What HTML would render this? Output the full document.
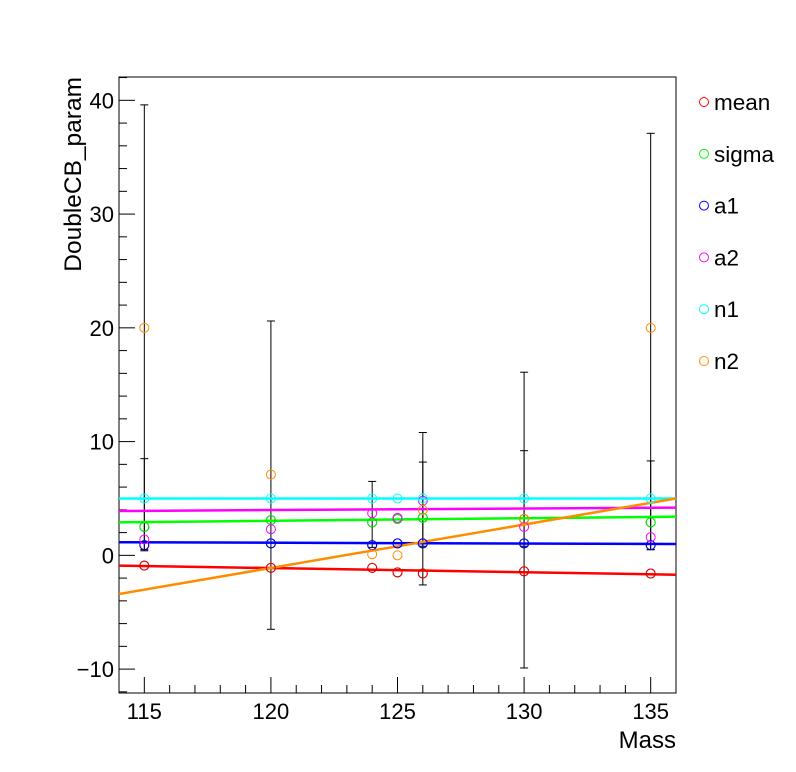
<!DOCTYPE html>
<html><head><meta charset="utf-8"><style>
body{margin:0;background:#fff;}
svg{display:block;font-family:"Liberation Sans",sans-serif;}
</style></head><body>
<svg id="c" width="796" height="772">
<rect width="796" height="772" fill="#fff"/>
<g id="plot"></g>
</svg>
<script>
const masses=[115,120,124,125,126,130,135];
const meanVals=[-0.9,-1.1,-1.1,-1.5,-1.6,-1.4,-1.6];
const sigmaVals=[2.5,3.1,2.9,3.2,3.3,3.2,2.9];
const a1Vals=[0.9,1.05,0.9,1.05,1.05,1.05,0.9];
const a2Vals=[1.4,2.3,3.7,3.3,4.8,2.5,1.6];
const n1Vals=[5,5,5,5,5,5,5];
const n2Vals=[20,7.1,0.1,0.0,4.0,3.2,20];
const fitMean=[-0.9,-1.7];
const fitSigma=[2.9,3.4];
const fitA1=[1.15,1.0];
const fitA2=[3.9,4.2];
const fitN1=[5.0,5.0];
const fitN2=[-3.4,5.0];
const errMass=[115,115,120,124,126,126,130,130,135,135];
const errLo=[0.4,0.5,-6.5,0.7,-2.6,0.8,-9.9,0.8,0.5,0.5];
const errHi=[39.6,8.5,20.6,6.5,10.8,8.2,16.1,9.2,37.1,8.3];
const xTicks=[115,120,125,130,135];
const yTicks=[-10,0,10,20,30,40];
const seriesNames=["mean","sigma","a1","a2","n1","n2"];

const X0=119,X1=676,Y0=77,Y1=693,xmin=114,xmax=136,ymin=-12.1,ymax=42.05;
const sx=v=>X0+(v-xmin)/(xmax-xmin)*(X1-X0);
const sy=v=>Y1-(v-ymin)/(ymax-ymin)*(Y1-Y0);
const svg=document.getElementById('c');
const NS='http://www.w3.org/2000/svg';
function mk(t,a,p){const e=document.createElementNS(NS,t);for(const k in a)e.setAttribute(k,a[k]);(p||svg).appendChild(e);return e;}

let f=mk('rect',{x:X0,y:Y0,width:X1-X0,height:Y1-Y0,fill:'none',stroke:'#000','stroke-width':1});


for(let v=114;v<=136;v++){const maj=v%5===0;mk('line',{x1:sx(v),x2:sx(v),y1:Y1,y2:Y1-(maj?16:8),stroke:'#000'});}
xTicks.forEach(v=>{const t=mk('text',{x:sx(v),y:Y1+26,'font-size':22,'text-anchor':'middle'});t.textContent=v;

});
for(let v=-12;v<=42;v+=2){const maj=v%10===0;mk('line',{x1:X0,x2:X0+(maj?16:8),y1:sy(v),y2:sy(v),stroke:'#000'});}
yTicks.forEach(v=>{const t=mk('text',{x:X0-5,y:sy(v)+8,'font-size':22,'text-anchor':'end'});t.textContent=(v<0?'\u2212'+(-v):v);

});
let xt=mk('text',{x:X1,y:748,'font-size':24,'text-anchor':'end'});xt.textContent='Mass';


let yt=mk('text',{x:0,y:0,'font-size':24.5,'text-anchor':'end',transform:'translate(81,77) rotate(-90)'});yt.textContent='DoubleCB_param';



errMass.forEach((m,i)=>{const g=mk('g',{stroke:'#000','stroke-width':1});


mk('line',{x1:sx(m),x2:sx(m),y1:sy(errLo[i]),y2:sy(errHi[i])},g);
mk('line',{x1:sx(m)-4,x2:sx(m)+4,y1:sy(errLo[i]),y2:sy(errLo[i])},g);
mk('line',{x1:sx(m)-4,x2:sx(m)+4,y1:sy(errHi[i]),y2:sy(errHi[i])},g);});

const cols=['#ff0000','#00ff00','#0000ff','#ff00ff','#00ffff','#ff8c00'];
const vals=[meanVals,sigmaVals,a1Vals,a2Vals,n1Vals,n2Vals];
const fits=[fitMean,fitSigma,fitA1,fitA2,fitN1,fitN2];
fits.forEach((fv,i)=>{const l=mk('line',{x1:sx(xmin),x2:sx(xmax),y1:sy(fv[0]),y2:sy(fv[1]),stroke:cols[i],'stroke-width':2.5});

});
[meanVals,a1Vals,sigmaVals].forEach(arr=>masses.forEach((m,j)=>mk('circle',{cx:sx(m),cy:sy(arr[j]),r:4.5,fill:'none',stroke:'#000','stroke-width':1})));
vals.forEach((arr,i)=>masses.forEach((m,j)=>{const c=mk('circle',{cx:sx(m),cy:sy(arr[j]),r:4.5,fill:'none',stroke:cols[i],'stroke-width':1});

}));
seriesNames.forEach((n,i)=>{const y=102+i*51.8;const g=mk('g',{});


mk('circle',{cx:704,cy:y,r:4.5,fill:'none',stroke:cols[i]},g);
const t=mk('text',{x:714,y:y+8,'font-size':22.5},g);t.textContent=n;});
</script>
</body></html>
